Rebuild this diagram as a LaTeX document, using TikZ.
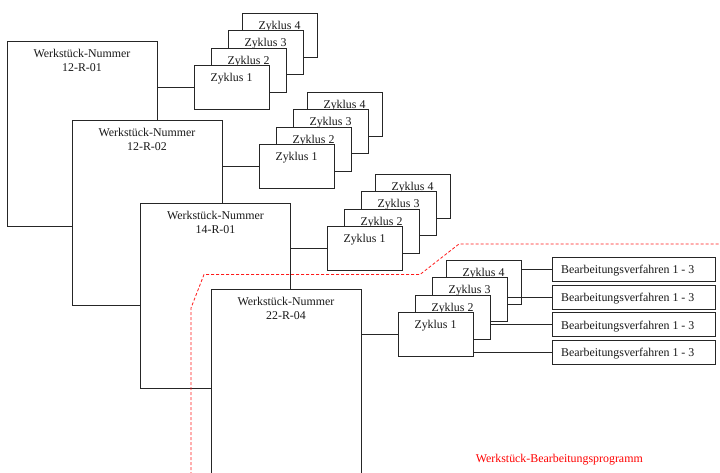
\documentclass[tikz,border=0pt]{standalone}
\usepackage{fontspec}
\setmainfont{Liberation Serif}
\newcommand\ZykGroup[3]{%
  \node[zbox] (z#1d) at (#2+48,#3-52) {};
  \node[txt] (z#1dt) at ([yshift=-16pt]z#1d.north) {Zyklus 4};
  \node[zbox] (z#1c) at (#2+34,#3-35) {};
  \node[txt] (z#1ct) at ([yshift=-16pt]z#1c.north) {Zyklus 3};
  \node[zbox] (z#1b) at (#2+17,#3-17) {};
  \node[txt] (z#1bt) at ([yshift=-16pt]z#1b.north) {Zyklus 2};
  \node[zbox] (z#1a) at (#2,#3) {};
  \node[txt] (z#1at) at ([yshift=-16pt]z#1a.north) {Zyklus 1};
}
\newcommand\WBox[4]{%
  \node[wbox] (#1) at (#2,#3) {};
  \node[txt] (#1t1) at ([yshift=-16.5pt]#1.north) {Werkstück-Nummer};
  \node[txt] (#1t2) at ([yshift=-30.5pt]#1.north) {#4};
}
\begin{document}
\begin{tikzpicture}[x=1pt,y=-1pt,
  font=\fontsize{11.9}{14}\selectfont,
  ln/.style={draw=black!85, line width=0.9pt},
  wbox/.style={ln, fill=white, rectangle, inner sep=0pt, outer sep=0pt,
    minimum width=150pt, minimum height=185pt, anchor=north west},
  zbox/.style={ln, fill=white, rectangle, inner sep=0pt, outer sep=0pt,
    minimum width=75pt, minimum height=44.5pt, anchor=north west},
  bbox/.style={ln, fill=white, rectangle, inner sep=0pt, outer sep=0pt,
    minimum width=163pt, minimum height=24pt, anchor=north west},
  txt/.style={anchor=base, inner sep=0pt, text=black!90},
  redline/.style={draw=red!90, line width=0.8pt, dash pattern=on 3pt off 2pt}
]
\useasboundingbox (0,0) rectangle (720,472);

% Werkstueck boxes
\WBox{b1}{7}{41}{12-R-01}
\WBox{b2}{72}{120}{12-R-02}
\WBox{b3}{140.5}{203}{14-R-01}

% red dashed boundary
\draw[redline] (191,480) -- (191,308) -- (204,274.5) -- (420,274.5) -- (459,244) -- (725,244);

\WBox{b4}{211}{289}{22-R-04}

% Zyklus groups
\ZykGroup{1}{194}{65}
\ZykGroup{2}{259}{144}
\ZykGroup{3}{327}{226}
\ZykGroup{4}{398}{312}

% connectors box -> Zyklus 1
\draw[ln] (b1.east |- z1a.west) -- (z1a.west);
\draw[ln] (b2.east |- z2a.west) -- (z2a.west);
\draw[ln] (b3.east |- z3a.west) -- (z3a.west);
\draw[ln] (b4.east |- z4a.west) -- (z4a.west);

% Bearbeitungsverfahren boxes
\node[bbox] (ba) at (552,257.3) {};
\node[bbox] (bb) at (552,285) {};
\node[bbox] (bc) at (552,312.7) {};
\node[bbox] (bd) at (552,340) {};
\node[txt, anchor=base west] (bat) at ([xshift=9pt,yshift=-16.5pt]ba.north west) {Bearbeitungsverfahren 1 - 3};
\node[txt, anchor=base west] (bbt) at ([xshift=9pt,yshift=-16.5pt]bb.north west) {Bearbeitungsverfahren 1 - 3};
\node[txt, anchor=base west] (bct) at ([xshift=9pt,yshift=-16.5pt]bc.north west) {Bearbeitungsverfahren 1 - 3};
\node[txt, anchor=base west] (bdt) at ([xshift=9pt,yshift=-16.5pt]bd.north west) {Bearbeitungsverfahren 1 - 3};

% connectors Zyklus -> Bearbeitungsverfahren
\draw[ln] (z4d.east |- ba.west) -- (ba.west);
\draw[ln] (z4c.east |- bb.west) -- (bb.west);
\draw[ln] (z4b.east |- bc.west) -- (bc.west);
\draw[ln] (z4a.east |- bd.west) -- (bd.west);

% label
\node[txt, text=red] (lbl) at (559.3,462.5) {Werkstück-Bearbeitungsprogramm};
\end{tikzpicture}
\end{document}
